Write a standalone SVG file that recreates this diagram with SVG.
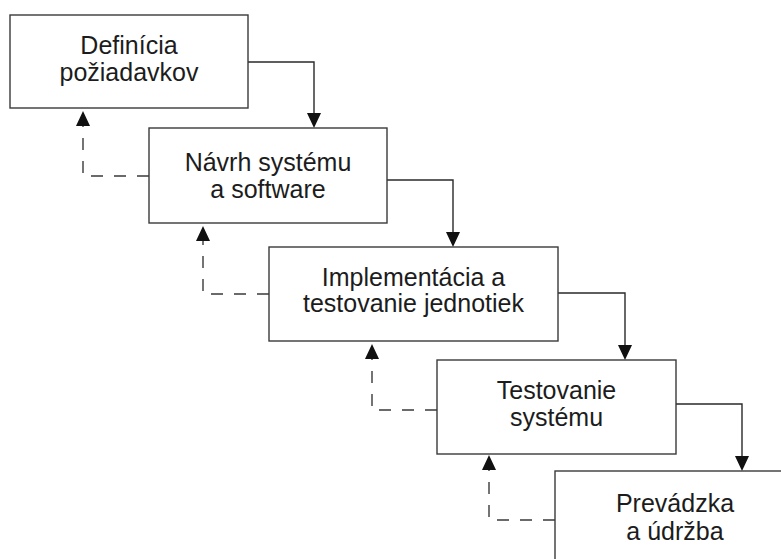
<svg xmlns="http://www.w3.org/2000/svg" width="781" height="559" viewBox="0 0 781 559">
<style>
.box{fill:#fff;stroke:#3a3a3a;stroke-width:1.4}
.t{font-family:"Liberation Sans",Arial,sans-serif;font-size:25px;fill:#1c1c1c;text-anchor:middle}
.flow{fill:none;stroke:#2a2a2a;stroke-width:1.4}
.back{fill:none;stroke:#3a3a3a;stroke-width:1.4;stroke-dasharray:12,11}
.head{fill:#111}
</style>
<rect width="781" height="559" fill="#fff"/>
<g id="connectors">
<path class="flow" d="M248,62 H314 V113"/>
<path class="head" d="M307,113 L321,113 L314,128 Z"/>
<path class="flow" d="M387,180 H453 V232"/>
<path class="head" d="M446,232 L460,232 L453,247 Z"/>
<path class="flow" d="M558,293 H625 V345"/>
<path class="head" d="M618,345 L632,345 L625,360 Z"/>
<path class="flow" d="M676,404 H742 V456"/>
<path class="head" d="M735,456 L749,456 L742,471 Z"/>
<path class="back" d="M149,176 H83 V126"/>
<path class="head" d="M76,126 L90,126 L83,111 Z"/>
<path class="back" d="M269,294 H203 V241"/>
<path class="head" d="M196,241 L210,241 L203,226 Z"/>
<path class="back" d="M437,410 H372 V359"/>
<path class="head" d="M365,359 L379,359 L372,344 Z"/>
<path class="back" d="M555,520 H489 V470"/>
<path class="head" d="M482,470 L496,470 L489,455 Z"/>
</g>
<g id="n1">
<rect class="box" x="10" y="15" width="238" height="93"/>
<text class="t" x="129" y="54">Definícia</text>
<text class="t" x="129" y="81">požiadavkov</text>
</g>
<g id="n2">
<rect class="box" x="149" y="128" width="238" height="95"/>
<text class="t" x="268" y="171">Návrh systému</text>
<text class="t" x="268" y="198">a software</text>
</g>
<g id="n3">
<rect class="box" x="269" y="247" width="289" height="94"/>
<text class="t" x="413.5" y="286">Implementácia a</text>
<text class="t" x="413.5" y="312">testovanie jednotiek</text>
</g>
<g id="n4">
<rect class="box" x="437" y="360" width="239" height="94"/>
<text class="t" x="556.5" y="399">Testovanie</text>
<text class="t" x="556.5" y="426">systému</text>
</g>
<g id="n5">
<rect class="box" x="555" y="471" width="240" height="95"/>
<text class="t" x="675" y="512">Prevádzka</text>
<text class="t" x="675" y="540">a údržba</text>
</g>
</svg>
